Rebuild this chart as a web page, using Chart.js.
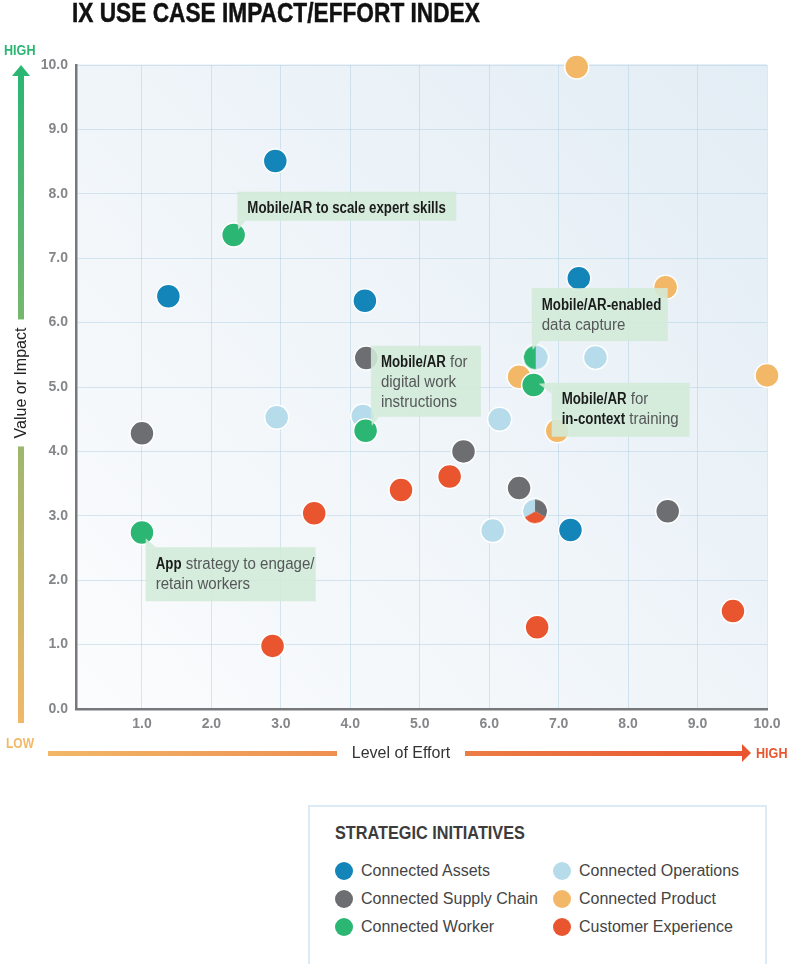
<!DOCTYPE html>
<html>
<head>
<meta charset="utf-8">
<script src="https://cdn.jsdelivr.net/npm/chart.js@4.4.1/dist/chart.umd.min.js"></script>
<style>
  body { margin: 0; background: #fff; width: 789px; height: 964px; position: relative; overflow: hidden;
         font-family: "Liberation Sans", Arial, sans-serif; }
  #chart { position: absolute; left: 0; top: 0; }
  .lbl { position: absolute; white-space: nowrap; line-height: 1; }
  .narrow { display: inline-block; transform-origin: left center; }
  #title { left: 72px; top: -1px; font-size: 28px; font-weight: bold; color: #111;
           -webkit-text-stroke: 0.5px #111; transform: scaleX(0.81); }
  #yHigh { left: 4px; top: 42px; font-size: 15px; font-weight: bold; color: #2bb673; transform: scaleX(0.84); }
  #yLow { left: 6px; top: 735px; font-size: 15px; font-weight: bold; color: #f2b868; transform: scaleX(0.8); }
  #xHigh { left: 756px; top: 745px; font-size: 15px; font-weight: bold; color: #e8552f; transform: scaleX(0.84); }
  #yShaft { position: absolute; left: 18px; top: 74px; width: 6px; height: 649px;
            background: linear-gradient(to bottom, #2bb673, #f2b868); }
  #yHead { position: absolute; left: 12px; top: 65px; width: 0; height: 0;
           border-left: 9px solid transparent; border-right: 9px solid transparent; border-bottom: 11px solid #2bb673; }
  #yTitle { left: 21px; top: 383px; font-size: 16px; color: #222;
            background: #fff; padding: 0 8px; transform: translate(-50%, -50%) rotate(-90deg); }
  #xShaft { position: absolute; left: 48px; top: 751px; width: 694px; height: 5px;
            background: linear-gradient(to right, #f2b868, #e8552f); }
  #xHead { position: absolute; left: 742px; top: 744px; width: 0; height: 0;
           border-top: 9.5px solid transparent; border-bottom: 9.5px solid transparent; border-left: 9px solid #e8552f; }
  #xTitle { left: 337px; top: 745px; width: 128px; text-align: center; font-size: 16px; color: #333; background: #fff; }
  #legendBox { position: absolute; left: 308px; top: 805px; width: 455px; height: 200px; border: 2px solid #dbeaf4; }
  #legTitle { left: 335px; top: 823px; font-size: 19px; font-weight: bold; color: #3c3c3c; transform: scaleX(0.855); }
  .legDot { position: absolute; width: 18px; height: 18px; border-radius: 50%; }
  .legText { font-size: 16px; color: #444; }
</style>
</head>
<body>
<canvas id="chart" width="789" height="760"></canvas>

<div class="lbl narrow" id="title">IX USE CASE IMPACT/EFFORT INDEX</div>
<div id="yShaft"></div>
<div id="yHead"></div>
<div class="lbl narrow" id="yHigh">HIGH</div>
<div class="lbl" id="yTitle">Value or Impact</div>
<div class="lbl narrow" id="yLow">LOW</div>
<div id="xShaft"></div>
<div id="xHead"></div>
<div class="lbl" id="xTitle">Level of Effort</div>
<div class="lbl narrow" id="xHigh">HIGH</div>

<div id="legendBox"></div>
<div class="lbl narrow" id="legTitle">STRATEGIC INITIATIVES</div>
<div id="legend"></div>

<script>
// series
const seriesNames = ['Connected Assets', 'Connected Supply Chain', 'Connected Worker',
                     'Connected Operations', 'Connected Product', 'Customer Experience'];
const seriesColors = ['#1485b8', '#6d6e72', '#2bb673', '#b6dbea', '#f2b868', '#e8552f'];

// level of effort (x) / value or impact (y), one pair of arrays per initiative
const assetsX = [2.92, 1.38, 4.21, 7.29, 7.17];
const assetsY = [8.51, 6.41, 6.34, 6.69, 2.78];
const supplyX = [1.00, 4.23, 5.63, 6.43, 8.57];
const supplyY = [4.28, 5.45, 4.00, 3.43, 3.07];
const workerX = [2.32, 4.22, 1.00, 6.64];
const workerY = [7.36, 4.32, 2.74, 5.03];
const operationsX = [2.94, 4.18, 6.15, 7.53, 6.05];
const operationsY = [4.53, 4.55, 4.50, 5.46, 2.77];
const productX = [7.26, 8.54, 6.43, 10.0, 6.98];
const productY = [9.97, 6.55, 5.16, 5.18, 4.32];
const customerX = [3.48, 4.73, 5.43, 2.88, 6.69, 9.51];
const customerY = [3.04, 3.40, 3.61, 0.98, 1.27, 1.52];

// use cases shared by several initiatives (split markers, slices clockwise from 12 o'clock)
const sharedX = [6.67, 6.66];
const sharedY = [5.46, 3.07];
const sharedParts = [
    ['Connected Operations', 'Connected Worker'],
    ['Connected Supply Chain', 'Customer Experience', 'Connected Operations']
];

// callouts: anchor use case + text lines as [dark part, grey part]
const calloutX = [2.32, 4.22, 6.67, 6.64, 1.00];
const calloutY = [7.36, 4.32, 5.46, 5.03, 2.74];
const calloutLines = [
    [['Mobile/AR to scale expert skills', '']],
    [['Mobile/AR', ' for'], ['', 'digital work'], ['', 'instructions']],
    [['Mobile/AR-enabled', ''], ['', 'data capture']],
    [['Mobile/AR', ' for'], ['in-context', ' training']],
    [['App', ' strategy to engage/'], ['', 'retain workers']]
];

const xTicks = [1, 2, 3, 4, 5, 6, 7, 8, 9, 10];
const yTicks = [0, 1, 2, 3, 4, 5, 6, 7, 8, 9, 10];

// layout of the callout boxes relative to their anchor point (pixels)
const calloutLayout = [
    { dx: 3.7, dy: -43.3, w: 219, h: 29, tip: [[0, 29], [8, 29], [1, 38]] },
    { dx: 5.3, dy: -85, w: 110, h: 71, tip: [[0, 71], [8, 71], [1, 80]] },
    { dx: -4, dy: -69.3, w: 136, h: 53, tip: [[0, 53], [8, 53], [1, 62]] },
    { dx: 18, dy: -2.3, w: 138, h: 54, tip: [[0, 0], [0, 11], [-13, 1]] },
    { dx: 3.7, dy: 14.7, w: 170, h: 54, tip: [[0, 0], [10, 0], [0, -9]] }
];
// lower order is drawn on top
const seriesOrder = [2, 3, 0, 6, 5, 4];

const seriesXs = [assetsX, supplyX, workerX, operationsX, productX, customerX];
const seriesYs = [assetsY, supplyY, workerY, operationsY, productY, customerY];
const colorOf = name => seriesColors[seriesNames.indexOf(name)];

function makeSplitMarker(colors) {
    const c = document.createElement('canvas');
    c.width = 28; c.height = 28;
    const g = c.getContext('2d');
    const step = 2 * Math.PI / colors.length;
    colors.forEach((col, i) => {
        g.beginPath();
        g.moveTo(14, 14);
        g.arc(14, 14, 12, -Math.PI / 2 + i * step, -Math.PI / 2 + (i + 1) * step);
        g.closePath();
        g.fillStyle = col;
        g.fill();
    });
    g.beginPath();
    g.arc(14, 14, 12.75, 0, 2 * Math.PI);
    g.strokeStyle = '#fff';
    g.lineWidth = 1.5;
    g.stroke();
    return c;
}

const datasets = seriesNames.map((name, i) => ({
    label: name,
    data: seriesXs[i].map((x, j) => ({ x: x, y: seriesYs[i][j] })),
    backgroundColor: seriesColors[i],
    borderColor: '#fff',
    borderWidth: 1.5,
    pointRadius: 12,
    order: seriesOrder[i],
    clip: false
}));
datasets.push({
    label: 'Shared',
    data: sharedX.map((x, j) => ({ x: x, y: sharedY[j] })),
    pointStyle: sharedParts.map(parts => makeSplitMarker(parts.map(colorOf))),
    pointRadius: 12,
    order: 1,
    clip: false
});

// plot background
const bgPlugin = {
    id: 'plotBg',
    beforeDraw(chart) {
        const { ctx, chartArea: a } = chart;
        const grad = ctx.createLinearGradient(a.left, a.bottom, a.right, a.top);
        grad.addColorStop(0, '#fbfcfd');
        grad.addColorStop(1, '#e3edf5');
        ctx.save();
        ctx.fillStyle = grad;
        ctx.fillRect(a.left, a.top - 1, a.right - a.left, a.bottom - a.top + 1);
        ctx.restore();
    }
};

// condensed text: horizontally squeezed Liberation Sans
function squeezedText(ctx, text, x, y, sx) {
    ctx.save();
    ctx.translate(x, y);
    ctx.scale(sx, 1);
    ctx.fillText(text, 0, 0);
    ctx.restore();
    return ctx.measureText(text).width * sx;
}

// annotation boxes
const calloutPlugin = {
    id: 'callouts',
    afterDatasetsDraw(chart) {
        const { ctx, scales } = chart;
        ctx.save();
        ctx.textBaseline = 'alphabetic';
        calloutLines.forEach((lines, i) => {
            const L = calloutLayout[i];
            const left = scales.x.getPixelForValue(calloutX[i]) + L.dx;
            const top = scales.y.getPixelForValue(calloutY[i]) + L.dy;
            ctx.fillStyle = 'rgba(210, 234, 216, 0.88)';
            ctx.fillRect(left, top, L.w, L.h);
            ctx.beginPath();
            L.tip.forEach((p, k) => k ? ctx.lineTo(left + p[0], top + p[1]) : ctx.moveTo(left + p[0], top + p[1]));
            ctx.closePath();
            ctx.fill();
            lines.forEach((parts, k) => {
                let x = left + 10;
                const y = top + 21.5 + k * 20;
                if (parts[0]) {
                    ctx.font = 'bold 16px "Liberation Sans"';
                    ctx.fillStyle = '#1b1b1b';
                    x += squeezedText(ctx, parts[0], x, y, 0.83);
                }
                if (parts[1]) {
                    ctx.font = '16px "Liberation Sans"';
                    ctx.fillStyle = '#555759';
                    squeezedText(ctx, parts[1], x, y, 0.94);
                }
            });
        });
        ctx.restore();
    }
};

const tickFont = { family: 'Liberation Sans', weight: 'bold', size: 14 };

new Chart(document.getElementById('chart'), {
    type: 'scatter',
    data: { datasets },
    options: {
        responsive: false,
        animation: false,
        events: [],
        layout: { padding: { top: 65, right: 22, bottom: 21, left: 0 } },
        plugins: { legend: { display: false }, tooltip: { enabled: false } },
        scales: {
            x: {
                type: 'linear', min: 0.05, max: 10,
                afterBuildTicks: ax => { ax.ticks = xTicks.map(v => ({ value: v })); },
                afterFit: s => { s.height = 30; },
                grid: { color: 'rgba(170, 205, 225, 0.45)', lineWidth: 1, drawTicks: false },
                border: { display: true, color: '#77787b', width: 2.5 },
                ticks: { padding: 7, color: '#858689', font: tickFont, callback: v => v.toFixed(1) }
            },
            y: {
                type: 'linear', min: 0, max: 10,
                afterBuildTicks: ax => { ax.ticks = yTicks.map(v => ({ value: v })); },
                afterFit: s => { s.width = 76; },
                grid: { color: 'rgba(170, 205, 225, 0.45)', lineWidth: 1, drawTicks: false },
                border: { display: true, color: '#77787b', width: 2.5 },
                ticks: { padding: 8, color: '#858689', font: tickFont, callback: v => v.toFixed(1) }
            }
        }
    },
    plugins: [bgPlugin, calloutPlugin]
});

// legend: two columns of three
const legend = document.getElementById('legend');
const legColX = [344, 562];
const legRowY = [871, 899, 927];
seriesNames.forEach((name, i) => {
    const col = Math.floor(i / 3), row = i % 3;
    const dot = document.createElement('div');
    dot.className = 'legDot';
    dot.style.left = (legColX[col] - 9) + 'px';
    dot.style.top = (legRowY[row] - 9) + 'px';
    dot.style.background = seriesColors[i];
    legend.appendChild(dot);
    const t = document.createElement('div');
    t.className = 'lbl legText';
    t.textContent = name;
    t.style.left = (legColX[col] + 17) + 'px';
    t.style.top = (legRowY[row] - 8) + 'px';
    legend.appendChild(t);
});
</script>
</body>
</html>
